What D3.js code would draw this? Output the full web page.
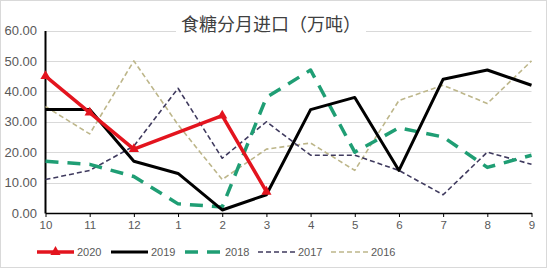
<!DOCTYPE html>
<html>
<head>
<meta charset="utf-8">
<script src="https://cdn.jsdelivr.net/npm/d3@7"></script>
<style>
  body { margin: 0; background: #fff; }
  svg { display: block; font-family: "Noto Sans CJK SC", "Liberation Sans", sans-serif; }
</style>
</head>
<body>
<div id="chart"></div>
<script>
// données
var mois = ["10", "11", "12", "1", "2", "3", "4", "5", "6", "7", "8", "9"];
var yTicks = [0, 10, 20, 30, 40, 50, 60];
var v2020 = [45, 33, 21, null, 32, 7, null, null, null, null, null, null];
var v2019 = [34, 34, 17, 13, 1, 6, 34, 38, 14, 44, 47, 42];
var v2018 = [17, 16, 12, 3, 2, 38, 47, 20, 28, 25, 15, 19];
var v2017 = [11, 14, 22, 41, 18, 30, 19, 19, 14, 6, 20, 16];
var v2016 = [35, 26, 50, 29, 11, 21, 23, 14, 37, 42, 36, 50];

var series = [
  {nom: "2020", vals: v2020, couleur: "#e3141e", ep: 3.5, dash: null, marque: true},
  {nom: "2019", vals: v2019, couleur: "#000000", ep: 3, dash: null},
  {nom: "2018", vals: v2018, couleur: "#1f9e74", ep: 3.5, dash: "13,9"},
  {nom: "2017", vals: v2017, couleur: "#3f3a5e", ep: 1.6, dash: "5,3"},
  {nom: "2016", vals: v2016, couleur: "#bdb68a", ep: 1.6, dash: "5,3"}
];

var largeurSvg = 550, hauteurSvg = 272;
var svg = d3.select("#chart").append("svg")
    .attr("width", largeurSvg)
    .attr("height", hauteurSvg);

// cadre
svg.append("rect")
    .attr("x", 0.5).attr("y", 0.5)
    .attr("width", 546).attr("height", 267)
    .attr("fill", "#fff")
    .attr("stroke", "#d9d9d9");

var x = d3.scalePoint().domain(mois).range([45.5, 531.5]);
var y = d3.scaleLinear().domain([0, 60]).range([213, 30.5]);

// grille
svg.append("g")
    .selectAll("line")
    .data(yTicks.slice(1))
    .join("line")
    .attr("x1", 45).attr("x2", 531.5)
    .attr("y1", function(d) { return Math.round(y(d)) + 0.5; })
    .attr("y2", function(d) { return Math.round(y(d)) + 0.5; })
    .attr("stroke", "#d9d9d9")
    .attr("stroke-width", 1.2);

// axe y
var axeY = svg.append("g")
    .attr("transform", "translate(45,0)")
    .call(d3.axisLeft(y).tickValues(yTicks).tickSize(0).tickPadding(8)
        .tickFormat(function(d) { return d3.format(".2f")(d); }));
axeY.select(".domain").attr("stroke", "#000").attr("stroke-width", 2);
axeY.selectAll("text").attr("fill", "#595959").style("font-size", "13px")
    .style("font-family", "'Liberation Sans', sans-serif");

// axe x
var axeX = svg.append("g")
    .attr("transform", "translate(0,213)")
    .call(d3.axisBottom(x).tickSize(4).tickPadding(4).tickSizeOuter(0));
axeX.select(".domain").attr("stroke", "#000").attr("stroke-width", 1.5);
axeX.selectAll(".tick line").attr("stroke", "#000");
axeX.selectAll("text").attr("fill", "#595959").style("font-size", "11.5px")
    .style("font-family", "'Liberation Sans', sans-serif");

// courbes
var ligne = d3.line()
    .x(function(d) { return x(d.m); })
    .y(function(d) { return y(d.v); });

series.slice().reverse().forEach(function(s) {
  var pts = s.vals.map(function(v, i) { return {m: mois[i], v: v}; })
      .filter(function(d) { return d.v !== null; });
  svg.append("path")
      .datum(pts)
      .attr("d", ligne)
      .attr("fill", "none")
      .attr("stroke", s.couleur)
      .attr("stroke-width", s.ep)
      .attr("stroke-dasharray", s.dash)
      .attr("stroke-linejoin", "round");
  if (s.marque) {
    svg.append("g").selectAll("path")
        .data(pts)
        .join("path")
        .attr("transform", function(d) { return "translate(" + x(d.m) + "," + y(d.v) + ")"; })
        .attr("d", d3.symbol().type(d3.symbolTriangle).size(45))
        .attr("fill", s.couleur);
  }
});

// titre
svg.append("rect")
    .attr("x", 176).attr("y", 14).attr("width", 190).attr("height", 22)
    .attr("fill", "#fff");
svg.append("text")
    .attr("x", 271).attr("y", 31)
    .attr("text-anchor", "middle")
    .attr("fill", "#404040")
    .style("font-size", "18px")
    .text("食糖分月进口（万吨）");

// légende
var legX = [37, 111, 185, 258, 331];
var leg = svg.append("g").selectAll("g")
    .data(series)
    .join("g")
    .attr("transform", function(d, i) { return "translate(" + legX[i] + ",252)"; });
leg.append("line")
    .attr("x1", 0).attr("x2", 37)
    .attr("stroke", function(d) { return d.couleur; })
    .attr("stroke-width", function(d) { return d.ep; })
    .attr("stroke-dasharray", function(d) { return d.dash; });
leg.filter(function(d) { return d.marque; })
    .append("path")
    .attr("transform", "translate(18.5,0)")
    .attr("d", d3.symbol().type(d3.symbolTriangle).size(45))
    .attr("fill", function(d) { return d.couleur; });
leg.append("text")
    .attr("x", 40).attr("y", 4)
    .attr("fill", "#595959")
    .style("font-size", "11px")
    .style("font-family", "'Liberation Sans', sans-serif")
    .text(function(d) { return d.nom; });
</script>
</body>
</html>
